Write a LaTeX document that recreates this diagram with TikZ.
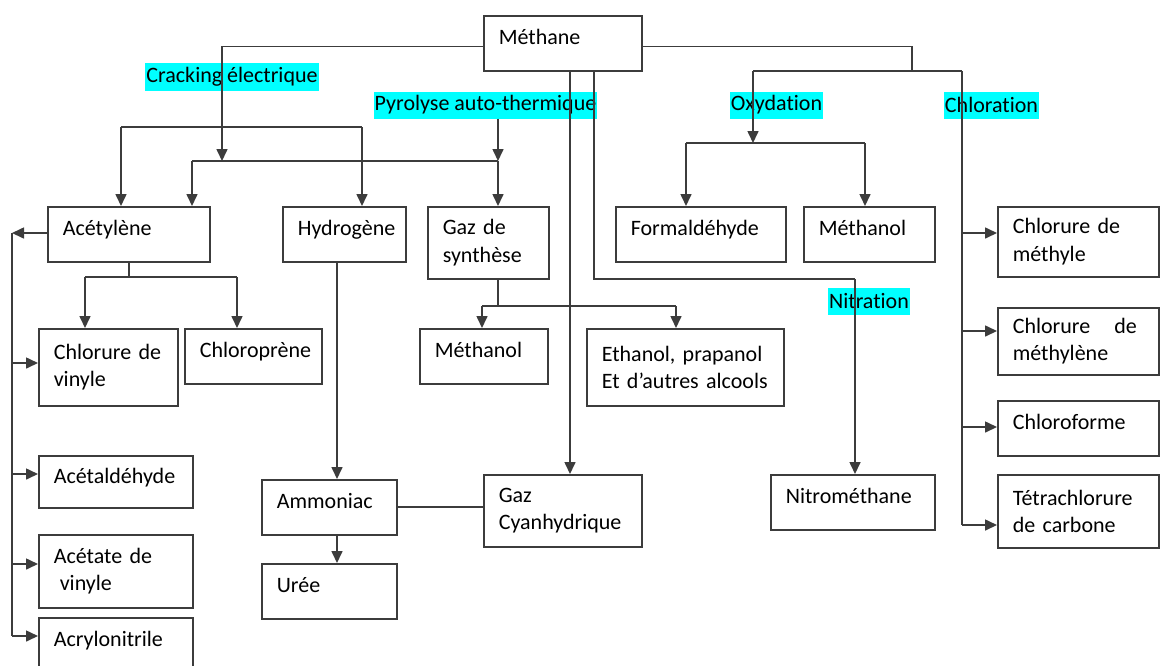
\documentclass[tikz,border=0pt]{standalone}
\usepackage{fontspec}
\setmainfont{Carlito}[RawFeature={-liga,-clig,-dlig,-calt}]
\usepackage{tikz}
\usetikzlibrary{arrows.meta}
\usetikzlibrary{calc}

\definecolor{surligne}{RGB}{0,255,255}
\definecolor{trait}{RGB}{60,60,60}

\tikzset{
	boite/.style={draw=trait, line width=0.8pt, anchor=north west, align=left,
		inner xsep=7.5pt, inner ysep=2pt, minimum height=27.5pt,
		font=\fontsize{11}{13.8}\selectfont},
	seule/.style={text height=8pt, text depth=6.5pt},
	etiquette/.style={fill=surligne, inner xsep=0.5pt, inner ysep=2pt,
		minimum height=13.5pt, font=\fontsize{11}{13.8}\selectfont},
	ligne/.style={draw=trait, line width=0.8pt},
	fleche/.style={ligne, -{Triangle[length=6pt,width=5.5pt]}}
}

\begin{document}
\begin{tikzpicture}[x=0.5pt, y=-0.5pt]
	\useasboundingbox (0,0) rectangle (1161,665);
	\clip (0,0) rectangle (1161,665);

	% les produits
	\node[boite, seule, text width=64pt] (meth) at (483,15) {Méthane};
	\node[boite, seule, text width=66pt] (acet) at (47,206) {Acétylène};
	\node[boite, seule, text width=46.5pt] (hydro) at (282,206) {Hydrogène};
	\node[boite, text width=45.5pt, minimum height=36pt] (gaz) at (427,206) {Gaz de\\synthèse};
	\node[boite, seule, text width=70pt] (formal) at (615,206) {Formaldéhyde};
	\node[boite, seule, text width=50.5pt] (metha1) at (803,206) {Méthanol};
	\node[boite, text width=65.5pt, minimum height=35pt] (clme) at (997,206) {Chlorure de\\méthyle};
	\node[boite, text width=54.5pt, minimum height=38.5pt] (clvin) at (38,328) {Chlorure de\\vinyle};
	\node[boite, seule, text width=53.5pt] (chlpren) at (184,328) {Chloroprène};
	\node[boite, seule, text width=49pt] (metha2) at (419,328) {Méthanol};
	\node[boite, text width=83.5pt, minimum height=38.5pt] (ethan) at (586,328) {Ethanol, prapanol\\Et d’autres alcools};
	\node[boite, text width=65.5pt, minimum height=33.5pt] (clmeth) at (997,307) {Chlorure\hfill de\kern3.5pt\\méthylène};
	\node[boite, seule, text width=65.5pt] (chlfo) at (997,400) {Chloroforme};
	\node[boite, seule, text width=62pt, minimum height=26pt] (acetald) at (38,455) {Acétaldéhyde};
	\node[boite, seule, text width=52.5pt] (ammo) at (261,479) {Ammoniac};
	\node[boite, text width=64pt, minimum height=36pt] (gazcy) at (483,474) {Gaz\\Cyanhydrique};
	\node[boite, seule, text width=67pt] (nitro) at (770,474) {Nitrométhane};
	\node[boite, text width=65.5pt, minimum height=36.5pt] (tetra) at (997,474) {Tétrachlorure\\de carbone};
	\node[boite, text width=62pt, minimum height=36.5pt] (acetate) at (38,534) {Acétate de\\\hspace{3pt}vinyle};
	\node[boite, seule, text width=52.5pt] (uree) at (261,563) {Urée};
	\node[boite, seule, text width=62pt] (acrylo) at (38,617) {Acrylonitrile};

	% les procedes
	\node[etiquette] (crack) at (232,77) {Cracking électrique};
	\node[etiquette] (pyro) at (485.5,105) {Pyrolyse auto-thermique};
	\node[etiquette] (oxy) at (776.5,105) {Oxydation};
	\node[etiquette] (chlor) at (991.5,105) {Chloration};
	\node[etiquette] (nitr) at (869,301) {Nitration};

	% points de jonction
	\coordinate (jc) at (222,161);
	\coordinate (jp) at (498,161);
	\coordinate (ja) at (192,161);
	\coordinate (jh1) at (121,127);
	\coordinate (jh2) at (362,127);
	\coordinate (xv1) at (570,0);
	\coordinate (jn1) at (594,279);
	\coordinate (jn2) at (855,279);
	\coordinate (jr) at (912,71);
	\coordinate (jo) at (753,71);
	\coordinate (jcl) at (962,71);
	\coordinate (jox) at (753,143);
	\coordinate (jf) at (686,143);
	\coordinate (jm) at (865,143);
	\coordinate (jl) at (12,233);
	\coordinate (jcv) at (85,277);
	\coordinate (jcp) at (237,277);
	\coordinate (xh) at (337,0);
	\coordinate (jg0) at (498,306);
	\coordinate (jg1) at (482,306);
	\coordinate (jg2) at (676,306);

	% cracking et pyrolyse
	\draw[fleche] ([yshift=-1.5pt]meth.west) -| (jc);
	\draw[fleche] (pyro.south -| jp) -- (jp);
	\draw[ligne] (ja) -- (jp);
	\draw[fleche] (ja) -- (ja |- acet.north);
	\draw[fleche] (jp) -- (jp |- gaz.north);
	\draw[ligne] (jh1) -- (jh2);
	\draw[fleche] (jh1) -- (jh1 |- acet.north);
	\draw[fleche] (jh2) -- (jh2 |- hydro.north);

	% gaz cyanhydrique et nitration
	\draw[fleche] (meth.south -| xv1) -- (xv1 |- gazcy.north);
	\draw[ligne] (meth.south -| jn1) -- (jn1) -- (jn2);
	\draw[fleche] (jn2) -- (jn2 |- nitro.north);

	% oxydation et chloration
	\draw[ligne] ([yshift=-1.5pt]meth.east) -| (jr);
	\draw[ligne] (jo) -- (jcl);
	\draw[fleche] (jo) -- (jox);
	\draw[ligne] (jf) -- (jm);
	\draw[fleche] (jf) -- (jf |- formal.north);
	\draw[fleche] (jm) -- (jm |- metha1.north);
	\draw[ligne] (jcl) -- (962,525);
	\draw[fleche] (962,233) -- (clme.west |- 0,233);
	\draw[fleche] (962,331) -- (clmeth.west |- 0,331);
	\draw[fleche] (962,427) -- (chlfo.west |- 0,427);
	\draw[fleche] (962,525) -- (tetra.west |- 0,525);

	% derives de l'acetylene
	\draw[fleche] (acet.west |- jl) -- (jl);
	\draw[ligne] (jl) -- (12,636);
	\draw[fleche] (12,363) -- (clvin.west |- 0,363);
	\draw[fleche] (12,474) -- (acetald.west |- 0,474);
	\draw[fleche] (12,564) -- (acetate.west |- 0,564);
	\draw[fleche] (12,636) -- (acrylo.west |- 0,636);
	\draw[ligne] (acet.south -| 129,0) -- (129,277);
	\draw[ligne] (jcv) -- (jcp);
	\draw[fleche] (jcv) -- (jcv |- clvin.north);
	\draw[fleche] (jcp) -- (jcp |- chlpren.north);

	% hydrogene, ammoniac, uree
	\draw[fleche] (hydro.south -| xh) -- (ammo.north -| xh);
	\draw[fleche] (ammo.south -| xh) -- (uree.north -| xh);
	\draw[ligne] (ammo.east |- 0,507) -- (gazcy.west |- 0,507);

	% gaz de synthese
	\draw[ligne] (gaz.south -| jg0) -- (jg0);
	\draw[ligne] (jg1) -- (jg2);
	\draw[fleche] (jg1) -- (jg1 |- metha2.north);
	\draw[fleche] (jg2) -- (jg2 |- ethan.north);
\end{tikzpicture}
\end{document}
